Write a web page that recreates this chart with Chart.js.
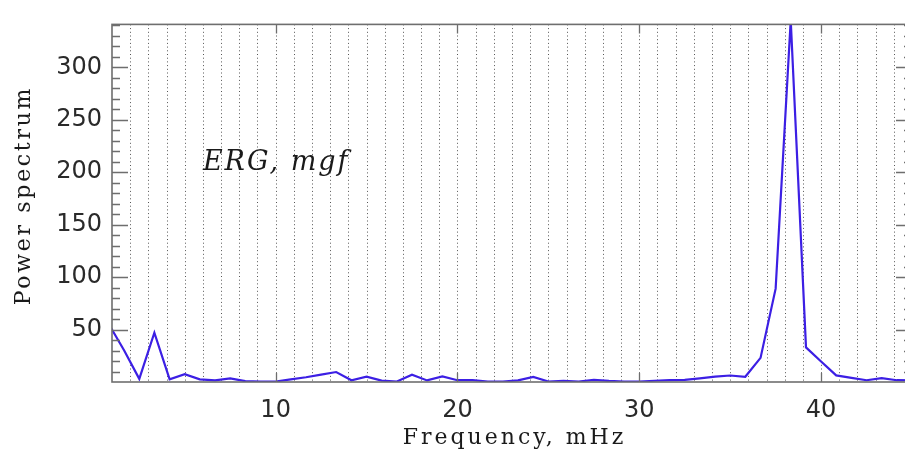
<!DOCTYPE html>
<html>
<head>
<meta charset="utf-8">
<script src="https://cdn.jsdelivr.net/npm/chart.js@4/dist/chart.umd.min.js"></script>
<style>
  html, body { margin: 0; padding: 0; background: #fff; overflow: hidden; }
  #wrap { width: 915px; height: 455px; }
</style>
</head>
<body>
<div id="wrap"><canvas id="spectrum" width="915" height="455"></canvas></div>
<script>
// Frequency bins (mHz) and power values
const freqs = [
  0.83, 1.67, 2.5, 3.33, 4.17, 5.0, 5.83, 6.67, 7.5, 8.33,
  9.17, 10.0, 10.83, 11.67, 12.5, 13.33, 14.17, 15.0, 15.83, 16.67,
  17.5, 18.33, 19.17, 20.0, 20.83, 21.67, 22.5, 23.33, 24.17, 25.0,
  25.83, 26.67, 27.5, 28.33, 29.17, 30.0, 30.83, 31.67, 32.5, 33.33,
  34.17, 35.0, 35.83, 36.67, 37.5, 38.33, 39.17, 40.0, 40.83, 41.67,
  42.5, 43.33, 44.17, 45.0
];
const power = [
  55, 30, 3, 47, 2.5, 7.5, 2.5, 1.5, 3.5, 0.8,
  0.5, 0.5, 2.5, 4.5, 7, 9.5, 1.7, 5, 1.3, 0.5,
  7, 1.5, 5.4, 1.7, 1.7, 0.5, 0.5, 1.5, 4.8, 0.5,
  1.2, 0.5, 2, 1, 0.5, 0.5, 1.2, 1.7, 2, 3.5,
  5.2, 6.2, 5, 23, 89, 345, 33, 19.5, 6.3, 4,
  1.7, 3.6, 1.7, 1.5
];
const xTicks = [10, 20, 30, 40];
const yTicks = [50, 100, 150, 200, 250, 300];

const X_MIN = 1, X_MAX = 45;
const Y_MIN = 0, Y_MAX = 341;

const labelFont = { family: "'DejaVu Sans', sans-serif", size: 24 };
const titleFont = "22px 'DejaVu Serif', serif";

function spacedText(ctx, text, x, y, spacing) {
  ctx.letterSpacing = spacing + 'px';
  // letterSpacing adds trailing space after last glyph; compensate when centring
  const w = ctx.measureText(text).width - spacing;
  ctx.fillText(text, x - w / 2, y);
  ctx.letterSpacing = '0px';
}

// Dotted grid, frame, inward ticks and the text annotations
const framePlugin = {
  id: 'framePlugin',
  beforeDatasetsDraw(chart) {
    const { ctx, chartArea: a, scales: { x } } = chart;
    ctx.save();
    ctx.strokeStyle = '#555';
    ctx.lineWidth = 1;
    ctx.setLineDash([1, 2.7]);
    for (let f = X_MIN + 1; f < X_MAX; f++) {
      const px = Math.round(x.getPixelForValue(f)) + 0.5;
      ctx.beginPath();
      ctx.moveTo(px, a.top);
      ctx.lineTo(px, a.bottom);
      ctx.stroke();
    }
    ctx.restore();
  },
  afterDatasetsDraw(chart) {
    const { ctx, chartArea: a, scales: { x, y } } = chart;
    ctx.save();
    ctx.strokeStyle = '#6e6e6e';
    ctx.lineWidth = 1.6;
    ctx.strokeRect(a.left, a.top, a.right - a.left, a.bottom - a.top);

    ctx.lineWidth = 1.3;
    ctx.beginPath();
    for (let v = 10; v < Y_MAX; v += 10) {
      const py = Math.round(y.getPixelForValue(v)) + 0.5;
      const len = v % 50 === 0 ? 16 : 8;
      ctx.moveTo(a.left, py); ctx.lineTo(a.left + len, py);
      ctx.moveTo(a.right, py); ctx.lineTo(a.right - len, py);
    }
    for (const v of xTicks) {
      const px = Math.round(x.getPixelForValue(v)) + 0.5;
      ctx.moveTo(px, a.bottom); ctx.lineTo(px, a.bottom - 9);
      ctx.moveTo(px, a.top); ctx.lineTo(px, a.top + 9);
    }
    ctx.stroke();

    // axis titles
    ctx.fillStyle = '#1a1a1a';
    ctx.font = titleFont;
    ctx.textBaseline = 'middle';
    spacedText(ctx, 'Frequency, mHz', (a.left + 910) / 2 + 2, 438, 3);
    ctx.save();
    ctx.translate(24, 197);
    ctx.rotate(-Math.PI / 2);
    spacedText(ctx, 'Power spectrum', 0, 0, 2.7);
    ctx.restore();

    // in-plot label
    ctx.font = "italic 27px 'DejaVu Serif', serif";
    ctx.textBaseline = 'alphabetic';
    ctx.letterSpacing = '2px';
    ctx.fillText('ERG, mgf', x.getPixelForValue(6.0), y.getPixelForValue(202));
    ctx.restore();
  }
};

new Chart(document.getElementById('spectrum'), {
  type: 'line',
  data: {
    datasets: [{
      data: freqs.map((f, i) => ({ x: f, y: power[i] })),
      borderColor: '#3c1fe4',
      borderWidth: 2.2,
      pointRadius: 0,
      tension: 0,
      fill: false
    }]
  },
  options: {
    responsive: false,
    animation: false,
    layout: { padding: { left: 0, right: 3, top: 10, bottom: 0 } },
    plugins: { legend: { display: false }, tooltip: { enabled: false } },
    scales: {
      x: {
        type: 'linear',
        min: X_MIN,
        max: X_MAX,
        afterBuildTicks: s => { s.ticks = xTicks.map(v => ({ value: v })); },
        afterFit: s => { s.height = 73; },
        grid: { display: false, drawTicks: false },
        border: { display: false },
        ticks: { color: '#2a2a2a', font: labelFont, padding: 14, maxRotation: 0 }
      },
      y: {
        type: 'linear',
        min: Y_MIN,
        max: Y_MAX,
        afterBuildTicks: s => { s.ticks = yTicks.map(v => ({ value: v })); },
        afterFit: s => { s.width = 112; },
        grid: { display: false, drawTicks: false },
        border: { display: false },
        ticks: { color: '#2a2a2a', font: labelFont, padding: 10 }
      }
    }
  },
  plugins: [framePlugin]
});
</script>
</body>
</html>
